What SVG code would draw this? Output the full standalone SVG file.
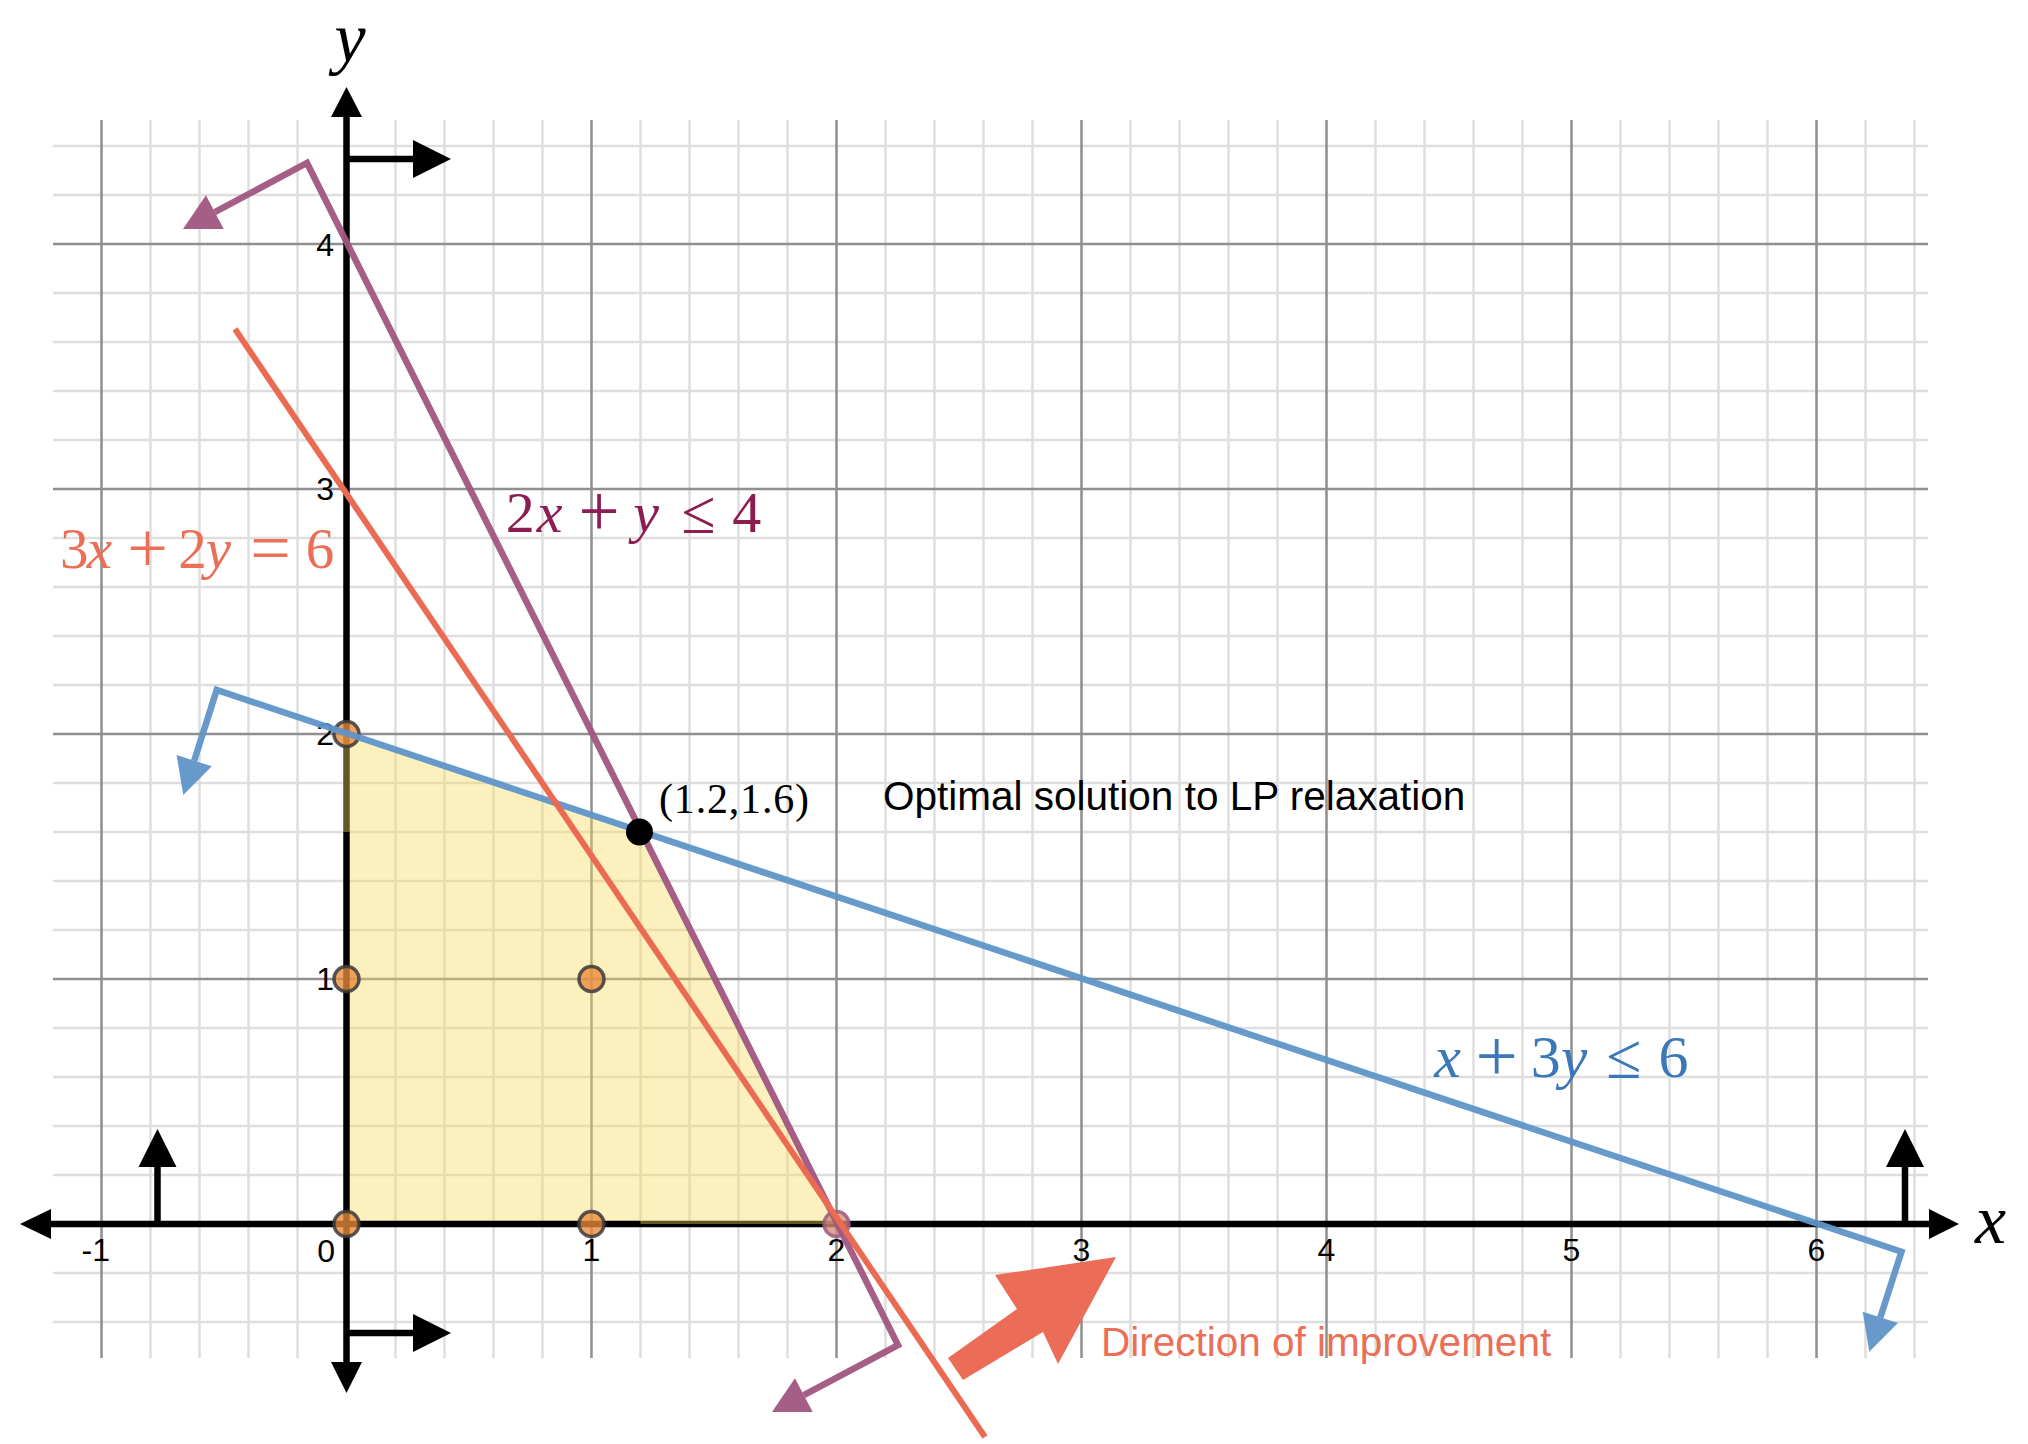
<svg xmlns="http://www.w3.org/2000/svg" width="2028" height="1444" viewBox="0 0 2028 1444">
<style>
.minor{stroke:#dedede;stroke-width:2.5;fill:none}
.major{stroke:#8f8f8f;stroke-width:2.5;fill:none}
.axis{stroke:#000;stroke-width:6.5;fill:none}
.blk{fill:#000}
.yel{fill:#f7d95c;fill-opacity:0.4}
.tick{font-family:"Liberation Sans",Arial,sans-serif;font-size:32px;fill:#000}
.math{font-family:"Liberation Serif","Times New Roman",serif}
.it{font-style:italic}
.pt{fill:#e98a3a;fill-opacity:0.78;stroke:#3a3a3a;stroke-opacity:0.85;stroke-width:3.5}
.cblue{stroke:#5f93c8;stroke-width:6.5;fill:none;stroke-linejoin:miter;stroke-opacity:0.95}
.cpur{stroke:#a0557e;stroke-width:6.5;fill:none;stroke-linejoin:miter;stroke-opacity:0.95}
.corg{stroke:#ea6b52;stroke-width:6;fill:none}
.hblue{fill:#5f93c8;fill-opacity:0.95}
.hpur{fill:#a0557e;fill-opacity:0.95}
.sans{font-family:"Liberation Sans",Arial,sans-serif;font-size:40.5px}
</style>
<rect width="2028" height="1444" fill="#fff"/>
<g id="grid">
<path class="minor" d="M150.5 120V1358M199.5 120V1358M248.5 120V1358M297.5 120V1358M395.5 120V1358M444.5 120V1358M493.5 120V1358M542.5 120V1358M640.5 120V1358M689.5 120V1358M738.5 120V1358M787.5 120V1358M885.5 120V1358M934.5 120V1358M983.5 120V1358M1032.5 120V1358M1130.5 120V1358M1179.5 120V1358M1228.5 120V1358M1277.5 120V1358M1375.5 120V1358M1424.5 120V1358M1473.5 120V1358M1522.5 120V1358M1620.5 120V1358M1669.5 120V1358M1718.5 120V1358M1767.5 120V1358M1865.5 120V1358M1914.5 120V1358"/>
<path class="minor" d="M53 1322H1928M53 1273H1928M53 1175H1928M53 1126H1928M53 1077H1928M53 1028H1928M53 930H1928M53 881H1928M53 832H1928M53 783H1928M53 685H1928M53 636H1928M53 587H1928M53 538H1928M53 440H1928M53 391H1928M53 342H1928M53 293H1928M53 195H1928M53 146H1928"/>
<path class="major" d="M101.5 120V1358M591.5 120V1358M836.5 120V1358M1081.5 120V1358M1326.5 120V1358M1571.5 120V1358M1816.5 120V1358"/>
<path class="major" d="M53 979H1928M53 734H1928M53 489H1928M53 244H1928"/>
</g>
<g id="feasible-base">
<rect class="yel" x="346.5" y="832" width="294" height="392"/>
</g>
<g id="axes">
<path class="axis" d="M346.5 117V1362M51 1224H1929"/>
<polygon class="blk" points="346.5,87 331,117 362,117"/>
<polygon class="blk" points="346.5,1393 331,1362 362,1362"/>
<polygon class="blk" points="20,1224 51,1209 51,1239"/>
<polygon class="blk" points="1959,1224 1929,1209 1929,1239"/>
<text class="math it" x="350" y="61" font-size="70" text-anchor="middle">y</text>
<text class="math it" x="1975" y="1243" font-size="70">x</text>
</g>
<g id="nonneg-arrows">
<path class="axis" d="M346.5 159H414M346.5 1333H414M157.5 1224V1166M1905 1224V1166" stroke-width="6"/>
<polygon class="blk" points="451,159 413,140 413,178"/>
<polygon class="blk" points="451,1333 413,1314 413,1352"/>
<polygon class="blk" points="157.5,1129 138.5,1167 176.5,1167"/>
<polygon class="blk" points="1905,1129 1886,1167 1924,1167"/>
</g>
<g id="feasible-top">
<polygon class="yel" points="343,734 640.5,832 343,832"/>
<polygon class="yel" points="640.5,832 836.5,1224 640.5,1224"/>
<line x1="641.5" y1="832" x2="641.5" y2="1222" stroke="#f7e27a" stroke-opacity="0.35" stroke-width="1.5"/>
</g>
<g id="tick-labels" class="tick">
<text x="110" y="1261" text-anchor="end">-1</text>
<text x="335" y="1262" text-anchor="end">0</text>
<text x="591.5" y="1261" text-anchor="middle">1</text>
<text x="836.5" y="1261" text-anchor="middle">2</text>
<text x="1081.5" y="1261" text-anchor="middle">3</text>
<text x="1326.5" y="1261" text-anchor="middle">4</text>
<text x="1571.5" y="1261" text-anchor="middle">5</text>
<text x="1816.5" y="1261" text-anchor="middle">6</text>
<text x="334" y="990" text-anchor="end">1</text>
<text x="334" y="745" text-anchor="end">2</text>
<text x="334" y="500" text-anchor="end">3</text>
<text x="334" y="256" text-anchor="end">4</text>
</g>
<g id="integer-points">
<circle class="pt" cx="346.5" cy="1224" r="12.5"/>
<circle class="pt" cx="346.5" cy="979" r="12.5"/>
<circle class="pt" cx="346.5" cy="734" r="12.5"/>
<circle class="pt" cx="591.5" cy="1224" r="12.5"/>
<circle class="pt" cx="591.5" cy="979" r="12.5"/>
<circle class="pt" cx="836.5" cy="1224" r="12.5" style="fill:#d98a78;stroke:#9c5a82"/>
</g>
<g id="connectors">
<g id="line-blue">
<polyline class="cblue" points="194.2,760.7 216.7,690 1901.5,1251.7 1880.3,1317.4"/>
<polygon class="hblue" points="183.3,795 211.8,766.3 176.6,755.1"/>
<polygon class="hblue" points="1869.3,1351.7 1897.9,1323.1 1862.7,1311.7"/>
</g>
<g id="line-purple">
<polyline class="cpur" points="214.8,212.1 307,163 898,1345 803.8,1395.1"/>
<polygon class="hpur" points="183,229 223.7,228.9 205.9,195.3"/>
<polygon class="hpur" points="772,1412 812.7,1411.9 794.9,1378.3"/>
</g>
<g id="line-orange">
<line class="corg" x1="235" y1="329" x2="985" y2="1437"/>
</g>
<g id="direction-arrow">
<polygon fill="#eb6d57" points="948,1358 1017,1309 995,1275 1116,1257 1058,1364 1043,1332 963,1380"/>
</g>
</g>
<g id="optimum">
<circle cx="639.5" cy="832" r="13.5" fill="#000"/>
<text class="math" x="659" y="813" font-size="42" textLength="150">(1.2,1.6)</text>
<text class="sans" x="883" y="810" fill="#000">Optimal solution to LP relaxation</text>
</g>
<g id="label-purple" class="math" font-size="58" fill="#8c1d50" text-anchor="middle">
<text x="520.3" y="531.5">2</text>
<text class="it" x="549.5" y="531.5">x</text>
<text x="599.2" y="535.5" font-size="73">+</text>
<text class="it" x="646" y="531.5">y</text>
<text x="698.3" y="532.5" font-size="62">≤</text>
<text x="746.7" y="531.5">4</text>
</g>
<g id="label-orange" class="math" font-size="57" fill="#eb6e57" text-anchor="middle">
<text x="74.2" y="568">3</text>
<text class="it" x="99.5" y="568">x</text>
<text x="147.5" y="572" font-size="72">+</text>
<text x="192.5" y="568">2</text>
<text class="it" x="218.5" y="568">y</text>
<text x="270.5" y="572" font-size="72">=</text>
<text x="320" y="568">6</text>
</g>
<g id="label-blue" class="math" font-size="60" fill="#3c78b8" text-anchor="middle">
<text class="it" x="1447.5" y="1077">x</text>
<text x="1496.6" y="1081" font-size="75">+</text>
<text x="1545.7" y="1077">3</text>
<text class="it" x="1574" y="1077">y</text>
<text x="1623.5" y="1078" font-size="64">≤</text>
<text x="1673.5" y="1077">6</text>
</g>
<g id="label-direction">
<text class="sans" x="1101" y="1356" fill="#eb6e57">Direction of improvement</text>
</g>
</svg>
